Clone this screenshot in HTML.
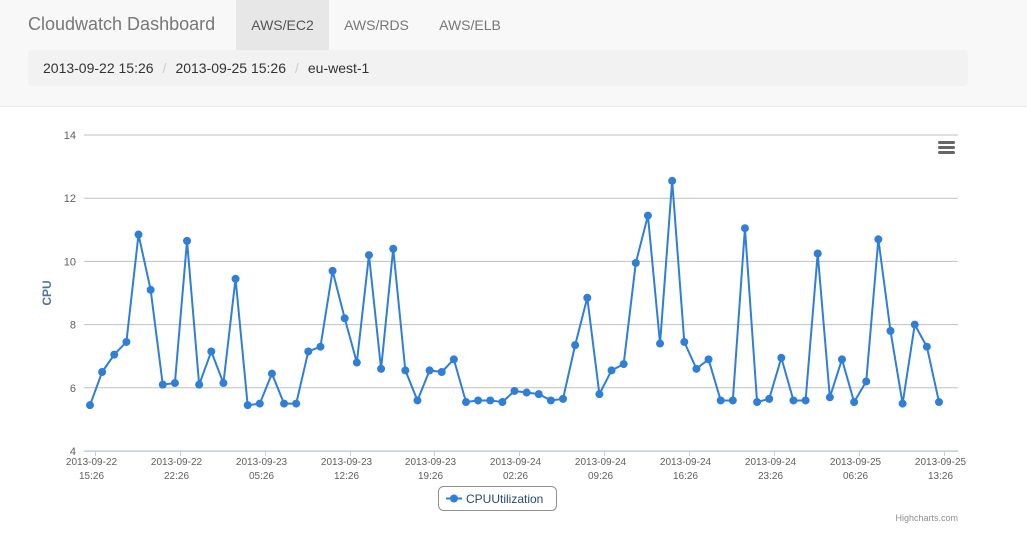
<!DOCTYPE html>
<html><head><meta charset="utf-8"><style>
body{margin:0;width:1027px;height:550px;overflow:hidden;background:#fff;font-family:"Liberation Sans",sans-serif;}
#hdr{position:absolute;left:0;top:0;width:1027px;height:106px;background:#f8f8f8;border-bottom:1px solid #e7e7e7;}
.brand{position:absolute;left:28px;top:14px;font-size:18px;color:#777;}
.tab{position:absolute;top:0;height:50px;line-height:50px;font-size:14px;color:#777;text-align:center;}
#bc{position:absolute;left:28px;top:50px;width:940px;height:36px;background:#f2f2f2;border-radius:4px;font-size:14px;color:#333;line-height:36px;}
#bc span.sep{color:#ccc;padding:0 9px;}
svg{position:absolute;left:0;top:0;}
</style></head><body>
<div id="hdr">
<div class="brand">Cloudwatch Dashboard</div>
<div class="tab" style="left:236px;width:93px;background:#e7e7e7;color:#555">AWS/EC2</div>
<div class="tab" style="left:329px;width:95px">AWS/RDS</div>
<div class="tab" style="left:424px;width:92px">AWS/ELB</div>
<div id="bc"><span style="padding-left:15px">2013-09-22 15:26</span><span class="sep">/</span><span>2013-09-25 15:26</span><span class="sep">/</span><span>eu-west-1</span></div>
</div>
<svg id="chart" width="1027" height="550"></svg>
<script>
const values=[5.45,6.5,7.05,7.45,10.85,9.1,6.1,6.15,10.65,6.1,7.15,6.15,9.45,5.45,5.5,6.45,5.5,5.5,7.15,7.3,9.7,8.2,6.8,10.2,6.6,10.4,6.55,5.6,6.55,6.5,6.9,5.55,5.6,5.6,5.55,5.9,5.85,5.8,5.6,5.65,7.35,8.85,5.8,6.55,6.75,9.95,11.45,7.4,12.55,7.45,6.6,6.9,5.6,5.6,11.05,5.55,5.65,6.95,5.6,5.6,10.25,5.7,6.9,5.55,6.2,10.7,7.8,5.5,8.0,7.3,5.55];
const yTicks=[4,6,8,10,12,14];
const xTickDates=["2013-09-22","2013-09-22","2013-09-23","2013-09-23","2013-09-23","2013-09-24","2013-09-24","2013-09-24","2013-09-24","2013-09-25","2013-09-25"];
const xTickTimes=["15:26","22:26","05:26","12:26","19:26","02:26","09:26","16:26","23:26","06:26","13:26"];
const xTickIdx=[0.4,7.4,14.4,21.4,28.4,35.4,42.4,49.4,56.4,63.4,70.4];
const NS="http://www.w3.org/2000/svg",svg=document.getElementById('chart');
const X0=90,X1=939,Y0=451,Y1=135;
const x=i=>X0+(X1-X0)*i/(values.length-1);
const y=v=>Y0-(v-4)/(14-4)*(Y0-Y1);
function mk(t,a,p){const e=document.createElementNS(NS,t);for(const k in a)e.setAttribute(k,a[k]);(p||svg).appendChild(e);return e;}
yTicks.forEach(t=>{
 const l=mk('line',{x1:84,x2:958,y1:y(t),y2:y(t),stroke:'#c0c0c0','stroke-width':1});
 
 
 const tx=mk('text',{x:76,y:y(t)+4,'text-anchor':'end','font-size':11,fill:'#606060'});tx.textContent=t;
 
 
});
const ax=mk('line',{x1:84,x2:958,y1:451.5,y2:451.5,stroke:'#c0d0e0'});


xTickIdx.forEach((ti,k)=>{
 const px=Math.round(x(ti))+0.5;
 mk('line',{x1:px,x2:px,y1:451,y2:456,stroke:'#c0d0e0'});
 const t=mk('text',{x:px-4,y:465,'text-anchor':'middle','font-size':10,fill:'#606060'});
 t.textContent=xTickDates[k];
 
 
 const t2=mk('text',{x:px-4,y:479,'text-anchor':'middle','font-size':10,fill:'#606060'});
 t2.textContent=xTickTimes[k];
 
 
});
const yt=mk('text',{x:0,y:0,transform:'translate(51,293) rotate(-90)','text-anchor':'middle','font-size':12,fill:'#4d759e','font-weight':'bold'});
yt.textContent='CPU';


const pl=mk('polyline',{points:values.map((v,i)=>x(i)+','+y(v)).join(' '),fill:'none',stroke:'#2f7ed8','stroke-width':2,'stroke-linejoin':'round'});


values.forEach((v,i)=>{
 const c=mk('circle',{cx:x(i),cy:y(v),r:4,fill:'#2f7ed8'});
 
 
});
const menu=mk('g',{});


[142,147,152].forEach(yy=>mk('rect',{x:938,y:yy-1,width:17,height:3,rx:1.5,fill:'#666'},menu));
const lg=mk('g',{});


mk('rect',{x:438.5,y:486.5,width:118,height:24,rx:5,fill:'#fff',stroke:'#909090'},lg);
mk('line',{x1:446,x2:462,y1:498.5,y2:498.5,stroke:'#2f7ed8','stroke-width':2},lg);
mk('circle',{cx:454,cy:498.5,r:4,fill:'#2f7ed8'},lg);
const lt=mk('text',{x:466,y:503,'font-size':12,fill:'#274b6d'},lg);lt.textContent='CPUUtilization';
const cr=mk('text',{x:958,y:521,'text-anchor':'end','font-size':9,fill:'#909090'});cr.textContent='Highcharts.com';


</script>
</body></html>
